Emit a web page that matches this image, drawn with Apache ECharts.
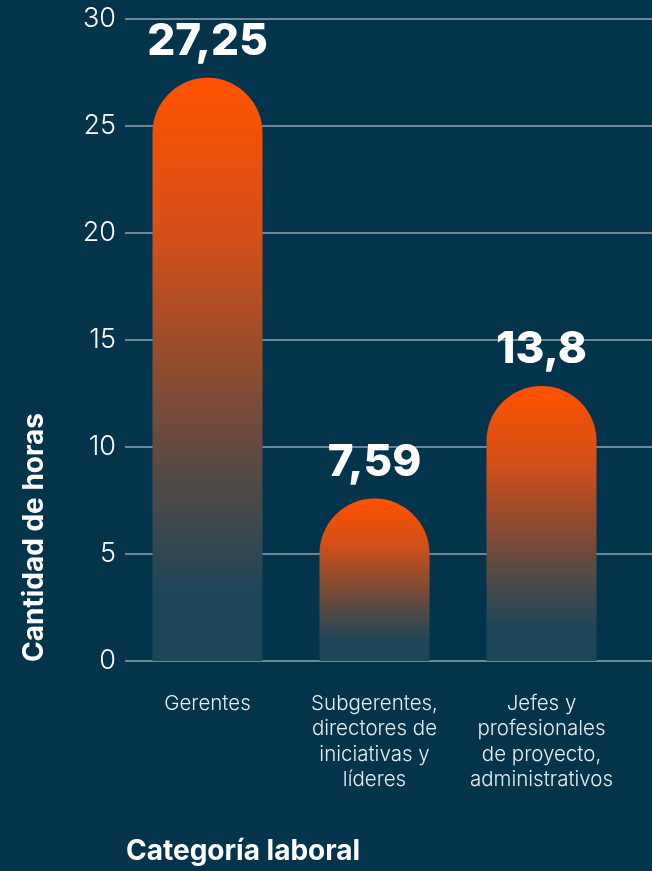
<!DOCTYPE html>
<html>
<head>
<meta charset="utf-8">
<script src="https://cdn.jsdelivr.net/npm/echarts@6/dist/echarts.min.js"></script>
<style>
html,body{margin:0;padding:0;background:#04344b;}
#c{width:652px;height:871px;}
</style>
</head>
<body>
<div id="c"></div>
<script>
const categories = ["Gerentes", "Subgerentes,\ndirectores de\niniciativas y\nlíderes", "Jefes y\nprofesionales\nde proyecto,\nadministrativos"];
const barValues = [27.25, 7.59, 12.85];
const valueLabels = ["27,25", "7,59", "13,8"];
const yTicks = [0, 5, 10, 15, 20, 25, 30];

const chart = echarts.init(document.getElementById('c'));
const barGradient = new echarts.graphic.LinearGradient(0, 0, 0, 1, [
  {offset: 0, color: '#ff5200'},
  {offset: 0.28, color: '#d3501a'},
  {offset: 0.5, color: '#8d4c30'},
  {offset: 0.7, color: '#504a47'},
  {offset: 0.88, color: '#1e4659'},
  {offset: 1, color: '#1e4659'}
]);
chart.setOption({
  backgroundColor: '#04344b',
  grid: [
    {left: 125, right: 0, top: 19, bottom: 210},
    {left: 124, width: 501, top: 19, bottom: 210}
  ],
  xAxis: [
    {gridIndex: 0, type: 'category', data: categories, show: false},
    {gridIndex: 1, type: 'category', data: categories,
     axisLine: {show: false}, axisTick: {show: false},
     axisLabel: {color: '#e6ecef', fontFamily: 'Inter', fontWeight: 300, fontSize: 20.5, lineHeight: 25.5, margin: 30, interval: 0}}
  ],
  yAxis: [
    {gridIndex: 0, type: 'value', min: yTicks[0], max: yTicks[yTicks.length-1], interval: 5,
     axisLine: {show: false}, axisTick: {show: false},
     axisLabel: {color: '#ffffff', fontFamily: 'Inter', fontWeight: 300, fontSize: 27, margin: 9},
     splitLine: {lineStyle: {color: '#6b8898', width: 2}}},
    {gridIndex: 1, type: 'value', min: yTicks[0], max: yTicks[yTicks.length-1], interval: 5, show: false}
  ],
  series: [{
    type: 'bar', xAxisIndex: 1, yAxisIndex: 1,
    data: barValues,
    barWidth: 110,
    itemStyle: {color: barGradient, borderRadius: [55, 55, 0, 0]},
    label: {show: true, position: 'top', distance: 14, color: '#ffffff',
      fontFamily: 'Inter', fontWeight: 800, fontSize: 44,
      formatter: p => valueLabels[p.dataIndex]}
  }],
  graphic: [
    {type: 'text', left: 126, top: 838, style: {text: 'Categoría laboral', fill: '#ffffff', font: 'bold 28px Inter'}},
    {type: 'text', x: 21, y: 662, rotation: Math.PI/2, style: {text: 'Cantidad de horas', fill: '#ffffff', font: 'bold 28px Inter', textAlign: 'left', textVerticalAlign: 'top'}}
  ]
});
</script>
</body>
</html>
